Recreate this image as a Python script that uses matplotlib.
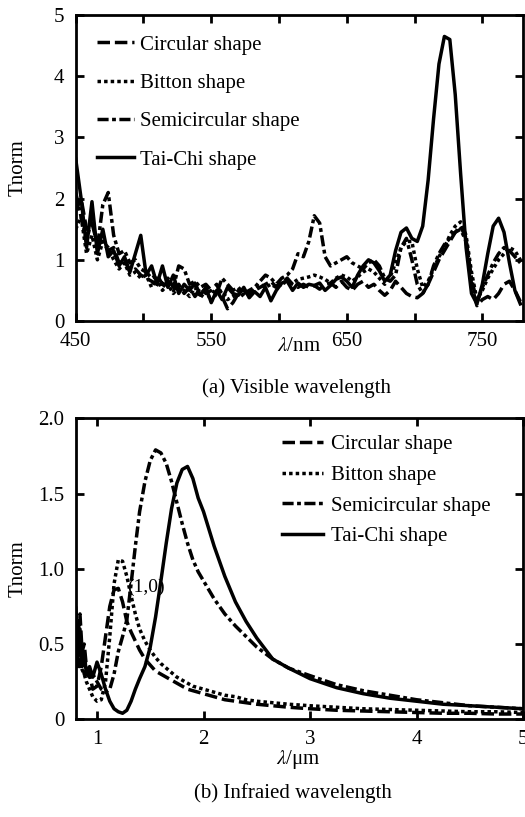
import numpy as np
import matplotlib
matplotlib.use("Agg")
from matplotlib import pyplot as plt

plt.rcParams['font.family'] = ['Liberation Serif', 'DejaVu Serif']
plt.rcParams['mathtext.fontset'] = 'stix'

# (a) visible wavelength, nm
wl_vis = [450, 454, 458, 462, 466, 470, 474, 478, 482, 486, 490, 494, 498, 502,
          506, 510, 514, 518, 522, 526, 530, 534, 538, 542, 546, 550, 554, 558,
          562, 566, 570, 574, 578, 582, 586, 590, 594, 598, 602, 606, 610, 614,
          618, 622, 626, 630, 634, 638, 642, 646, 650, 654, 658, 662, 666, 670,
          674, 678, 682, 686, 690, 694, 698, 702, 706, 710, 714, 718, 722, 726,
          730, 734, 738, 742, 746, 750, 754, 758, 762, 766, 770, 774, 778]

circ_vis = [1.8, 2.0, 1.5, 1.6, 1.25, 1.3, 1.15, 1.2, 0.95, 1.0, 0.8, 0.85, 0.75, 0.7,
            0.65, 0.6, 0.55, 0.65, 0.5, 0.6, 0.45, 0.55, 0.4, 0.55, 0.45, 0.5, 0.6, 0.4,
            0.2, 0.3, 0.45, 0.5, 0.45, 0.5, 0.55, 0.6, 0.65, 0.55, 0.6, 0.7, 0.6, 0.55,
            0.6, 0.55, 0.58, 0.52, 0.6, 0.62, 0.55, 0.65, 0.55, 0.5, 0.6, 0.65, 0.55, 0.6,
            0.5, 0.42, 0.5, 0.65, 0.55, 0.45, 0.4, 0.38, 0.45, 0.6, 0.8, 1.0, 1.15, 1.3,
            1.45, 1.55, 1.35, 0.6, 0.25, 0.35, 0.4, 0.35, 0.45, 0.6, 0.65, 0.5, 0.32]

bitton_vis = [1.5, 1.7, 1.1, 1.4, 1.0, 1.3, 1.2, 1.0, 0.85, 0.95, 0.75, 0.8, 0.7, 0.75,
              0.55, 0.7, 0.5, 0.6, 0.45, 0.55, 0.5, 0.4, 0.55, 0.38, 0.5, 0.32, 0.45, 0.5,
              0.35, 0.4, 0.5, 0.4, 0.48, 0.5, 0.6, 0.55, 0.6, 0.55, 0.65, 0.6, 0.62, 0.68,
              0.7, 0.72, 0.75, 0.72, 0.68, 0.62, 0.7, 0.75, 0.72, 0.65, 0.72, 0.8, 0.85, 0.8,
              0.7, 0.6, 0.72, 0.95, 1.2, 1.3, 1.3, 0.85, 0.55, 0.65, 0.85, 1.05, 1.2, 1.4,
              1.55, 1.62, 1.4, 0.8, 0.35, 0.5, 0.7, 0.85, 1.0, 1.1, 1.2, 1.15, 1.0]

semi_vis = [2.1, 1.7, 1.3, 1.7, 1.2, 1.9, 2.1, 1.4, 1.1, 1.15, 0.95, 1.0, 0.85, 0.8,
            0.7, 0.75, 0.6, 0.7, 0.55, 0.9, 0.85, 0.6, 0.65, 0.55, 0.6, 0.5, 0.45, 0.7,
            0.6, 0.5, 0.55, 0.45, 0.5, 0.55, 0.65, 0.75, 0.7, 0.6, 0.7, 0.75, 0.85, 1.1,
            1.05, 1.3, 1.72, 1.6, 1.05, 0.9, 0.95, 1.0, 1.05, 0.95, 0.9, 0.85, 0.95, 1.0,
            0.9, 0.7, 0.65, 0.75, 1.2, 1.35, 1.0, 0.6, 0.45, 0.6, 0.9, 1.1, 1.25, 1.35,
            1.45, 1.5, 1.3, 0.7, 0.3, 0.55, 0.75, 0.95, 1.1, 1.2, 1.15, 1.05, 0.95]

taichi_vis = [2.65, 2.0, 1.2, 1.95, 1.1, 1.5, 1.05, 1.15, 0.9, 1.05, 0.8, 1.1, 1.4, 0.75,
              0.9, 0.6, 0.9, 0.55, 0.75, 0.45, 0.6, 0.5, 0.62, 0.42, 0.55, 0.3, 0.5, 0.35,
              0.55, 0.45, 0.42, 0.55, 0.38, 0.48, 0.4, 0.55, 0.33, 0.5, 0.62, 0.65, 0.5, 0.62,
              0.55, 0.6, 0.58, 0.62, 0.5, 0.58, 0.68, 0.72, 0.65, 0.55, 0.75, 0.9, 1.0, 0.95,
              0.82, 0.65, 0.75, 1.15, 1.45, 1.52, 1.35, 1.3, 1.55, 2.3, 3.3, 4.2, 4.65, 4.6,
              3.7, 2.4, 1.2, 0.45, 0.28, 0.6, 1.1, 1.55, 1.68, 1.45, 0.95, 0.5, 0.28]

# (b) infrared wavelength, um
wl_ir = [0.80, 0.82, 0.84, 0.86, 0.88, 0.90, 0.93, 0.96, 1.00, 1.04, 1.08, 1.12,
         1.16, 1.20, 1.24, 1.28, 1.32, 1.36, 1.40, 1.45, 1.50, 1.55, 1.60, 1.65,
         1.70, 1.75, 1.80, 1.85, 1.90, 1.95, 2.00, 2.10, 2.20, 2.30, 2.40, 2.50,
         2.65, 2.80, 3.00, 3.25, 3.50, 3.75, 4.00, 4.25, 4.50, 4.75, 5.00]

circ_ir = [0.75, 0.55, 0.7, 0.45, 0.5, 0.35, 0.3, 0.2, 0.22, 0.35, 0.55, 0.75,
           0.86, 0.87, 0.78, 0.65, 0.58, 0.52, 0.46, 0.4, 0.36, 0.32, 0.3, 0.28,
           0.26, 0.24, 0.22, 0.2, 0.19, 0.18, 0.17, 0.15, 0.13, 0.12, 0.11, 0.1,
           0.09, 0.08, 0.07, 0.06, 0.055, 0.05, 0.045, 0.04, 0.04, 0.035, 0.035]

bitton_ir = [0.4, 0.35, 0.38, 0.33, 0.3, 0.25, 0.2, 0.15, 0.12, 0.13, 0.25, 0.55,
             0.9, 1.06, 1.05, 0.95, 0.82, 0.7, 0.6, 0.52, 0.46, 0.41, 0.37, 0.34,
             0.31, 0.28, 0.26, 0.24, 0.22, 0.21, 0.2, 0.18, 0.16, 0.15, 0.13, 0.12,
             0.11, 0.1, 0.09, 0.08, 0.07, 0.065, 0.06, 0.055, 0.05, 0.05, 0.045]

semi_ir = [0.35, 0.45, 0.35, 0.38, 0.3, 0.3, 0.28, 0.3, 0.25, 0.2, 0.18, 0.2,
           0.3, 0.45, 0.55, 0.66, 0.9, 1.15, 1.38, 1.58, 1.72, 1.79, 1.77, 1.7,
           1.58, 1.44, 1.3, 1.17, 1.06, 0.98, 0.92, 0.8, 0.7, 0.62, 0.55, 0.48,
           0.4, 0.34, 0.29, 0.23, 0.19, 0.16, 0.13, 0.11, 0.09, 0.08, 0.07]

taichi_ir = [0.7, 0.4, 0.6, 0.35, 0.45, 0.3, 0.35, 0.28, 0.38, 0.3, 0.2, 0.12,
             0.07, 0.05, 0.04, 0.06, 0.12, 0.2, 0.27, 0.35, 0.48, 0.68, 0.92, 1.17,
             1.4, 1.57, 1.66, 1.68, 1.6, 1.47, 1.38, 1.15, 0.95, 0.78, 0.65, 0.54,
             0.4, 0.34, 0.27, 0.21, 0.17, 0.14, 0.12, 0.1, 0.09, 0.08, 0.07]

names = ["Circular shape", "Bitton shape", "Semicircular shape", "Tai-Chi shape"]
styles = [(0, (3.6, 1.4)), (0, (1.0, 0.9)), (0, (3.2, 1.0, 1.1, 1.0)), '-']
lw = 2.5
fs = 15

fig = plt.figure(figsize=(5.25, 8.17), dpi=100)

# top panel
ax1 = fig.add_axes([0.1442, 0.6071, 0.852, 0.3745])
for ys, name, ls in zip([circ_vis, bitton_vis, semi_vis, taichi_vis], names, styles):
    ax1.plot(wl_vis, ys, color='black', lw=lw, linestyle=ls, label=name)
ax1.set_xlim(450, 780)
ax1.set_ylim(0, 5)
ax1.set_xticks([450, 550, 650, 750])
ax1.set_xticks([500, 600, 700], minor=True)
ax1.set_yticks([0, 1, 2, 3, 4, 5])
ax1.set_ylabel("Tnorm", fontsize=fs)
ax1.yaxis.set_label_coords(-0.107, 0.5)
ax1.legend(loc='upper left', bbox_to_anchor=(0.0476, 0.935), frameon=False,
           fontsize=fs, handlelength=1.8, handletextpad=0.25, labelspacing=0.9,
           borderpad=0, borderaxespad=0)

# bottom panel
ax2 = fig.add_axes([0.1442, 0.1196, 0.852, 0.3684])
for ys, name, ls in zip([circ_ir, bitton_ir, semi_ir, taichi_ir], names, styles):
    ax2.plot(wl_ir, ys, color='black', lw=lw, linestyle=ls, label=name)
ax2.text(1.28, 0.88, "(1,0)", fontsize=14, va='center', ha='left', zorder=1)
ax2.set_xlim(0.8, 5.0)
ax2.set_ylim(0, 2.0)
ax2.set_xticks([1, 2, 3, 4, 5])
ax2.set_yticks([0, 0.5, 1.0, 1.5, 2.0])
ax2.set_yticklabels(["0", "0.5", "1.0", "1.5", "2.0"])
ax2.set_ylabel("Tnorm", fontsize=fs)
ax2.yaxis.set_label_coords(-0.107, 0.5)
ax2.legend(loc='upper left', bbox_to_anchor=(0.461, 0.945), frameon=False,
           fontsize=fs, handlelength=1.95, handletextpad=0.4, labelspacing=0.53,
           borderpad=0, borderaxespad=0)

for ax in [ax1, ax2]:
    for sp in ax.spines.values():
        sp.set_linewidth(2.0)
    ax.tick_params(which='both', direction='in', top=True, right=True,
                   length=6, width=2, labelsize=fs, pad=8)

fig.text(0.569, 0.5753, "$\\lambda$/nm", fontsize=fs, ha='center', va='center')
fig.text(0.565, 0.525, "(a) Visible wavelength", fontsize=fs, ha='center', va='center')
fig.text(0.569, 0.0698, "$\\lambda$/μm", fontsize=fs, ha='center', va='center')
fig.text(0.558, 0.0294, "(b) Infraied wavelength", fontsize=fs, ha='center', va='center')

fig.savefig("out.png", dpi=100)
